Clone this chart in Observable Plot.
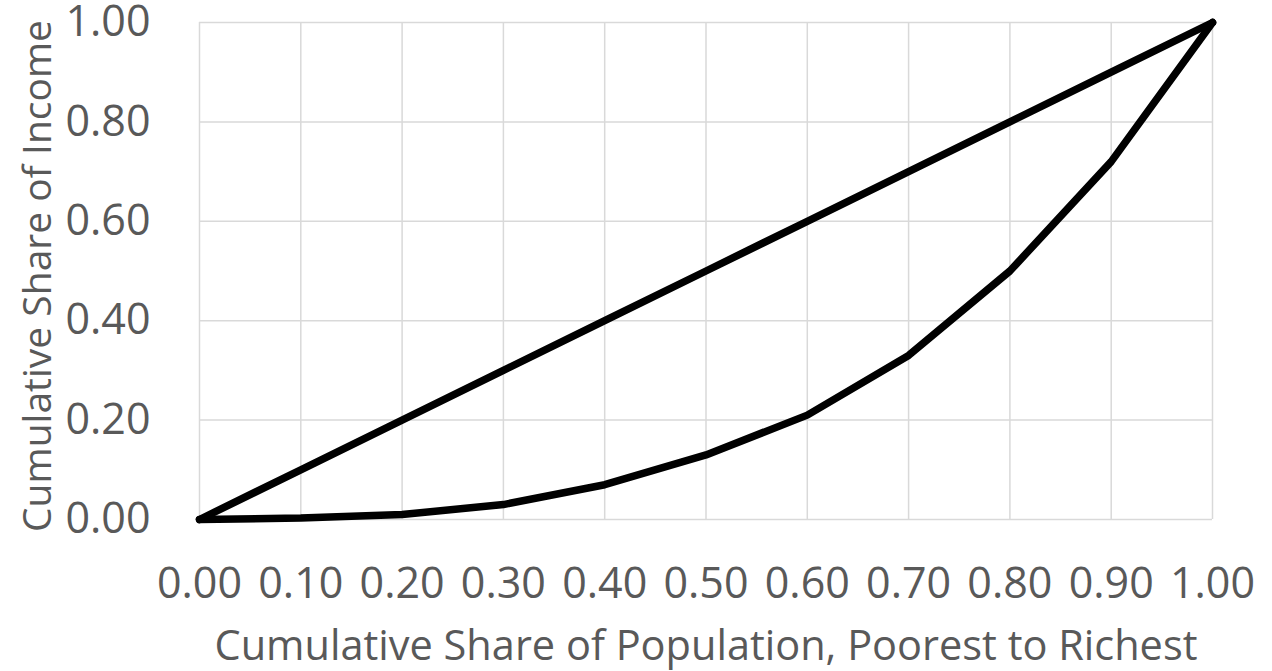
<!DOCTYPE html>
<html>
<head>
<meta charset="utf-8">
<script src="https://cdn.jsdelivr.net/npm/d3@7"></script>
<script src="https://cdn.jsdelivr.net/npm/@observablehq/plot@0.6"></script>
<style>
  html, body { margin: 0; padding: 0; background: #fff; }
  #chart { width: 1272px; height: 671px; }
</style>
</head>
<body>
<div id="chart"></div>
<script>
// Data
const populationShare = [0.0, 0.1, 0.2, 0.3, 0.4, 0.5, 0.6, 0.7, 0.8, 0.9, 1.0];
const equalityIncome  = [0.0, 0.1, 0.2, 0.3, 0.4, 0.5, 0.6, 0.7, 0.8, 0.9, 1.0];
const lorenzIncome    = [0.0, 0.003, 0.01, 0.03, 0.07, 0.13, 0.21, 0.33, 0.50, 0.72, 1.0];
const xTicks = [0.0, 0.1, 0.2, 0.3, 0.4, 0.5, 0.6, 0.7, 0.8, 0.9, 1.0];
const yTicks = [0.0, 0.2, 0.4, 0.6, 0.8, 1.0];
const xTitle = "Cumulative Share of Population, Poorest to Richest";
const yTitle = "Cumulative Share of Income";

const equality = populationShare.map((p, i) => ({x: p, y: equalityIncome[i]}));
const lorenz = populationShare.map((p, i) => ({x: p, y: lorenzIncome[i]}));

const fmt = d3.format(".2f");
const gridColor = "#d9d9d9";
const textColor = "#595959";
const font = "'Open Sans', sans-serif";

const chart = Plot.plot({
  width: 1272,
  height: 671,
  marginLeft: 199,
  marginRight: 60,
  marginTop: 22,
  marginBottom: 152,
  style: {fontFamily: font, fontSize: "43px", color: textColor, background: "#fff"},
  x: {domain: [0, 1]},
  y: {domain: [0, 1]},
  marks: [
    Plot.gridX(xTicks, {stroke: gridColor, strokeOpacity: 1, strokeWidth: 1.5}),
    Plot.gridY(yTicks, {stroke: gridColor, strokeOpacity: 1, strokeWidth: 1.5}),
    Plot.axisX(xTicks, {tickSize: 0, tickPadding: 48, tickFormat: fmt, label: null, fill: textColor}),
    Plot.axisY(yTicks, {tickSize: 0, tickPadding: 49, tickFormat: fmt, label: null, fill: textColor}),
    Plot.line(equality, {x: "x", y: "y", stroke: "#000", strokeWidth: 7.5, strokeLinejoin: "miter"}),
    Plot.line(lorenz, {x: "x", y: "y", stroke: "#000", strokeWidth: 7.5, strokeLinejoin: "miter"}),
    Plot.text([xTitle], {frameAnchor: "bottom", dy: 127, lineAnchor: "middle", textAnchor: "middle", fill: textColor, fontSize: 41.5}),
    Plot.text([yTitle], {frameAnchor: "left", dx: -161, dy: 5, rotate: -90, lineAnchor: "middle", textAnchor: "middle", fill: textColor, fontSize: 39})
  ]
});
document.getElementById("chart").append(chart);
</script>
</body>
</html>
